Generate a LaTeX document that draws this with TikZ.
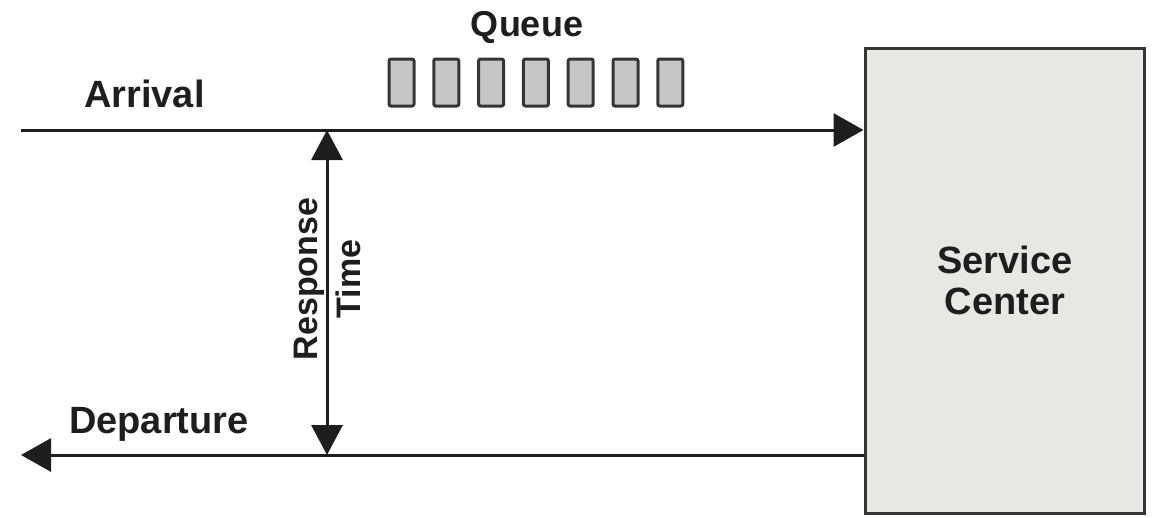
\documentclass[tikz,border=0pt]{standalone}
\usepackage{fontspec}
\setmainfont{Liberation Sans}
\usetikzlibrary{arrows.meta}
\definecolor{centerfill}{RGB}{231,232,228}
\definecolor{slotfill}{RGB}{198,198,196}
\definecolor{ink}{RGB}{30,30,30}
\begin{document}
\begin{tikzpicture}[x=1pt,y=-1pt,
  lbl/.style={font=\fontsize{38}{41}\selectfont\bfseries, inner sep=0pt, text=ink},
  flow/.style={line width=3pt, draw=ink, -{Triangle[length=30pt,width=33pt]}},
  dimarrow/.style={line width=3pt, draw=ink, {Triangle[length=30pt,width=31pt]}-{Triangle[length=30pt,width=31pt]}},
  slot/.style={draw=ink!90, line width=3pt, fill=slotfill, rounded corners=2pt,
    minimum width=25pt, minimum height=47pt, inner sep=0pt},
  centerbox/.style={draw=ink!90, line width=3pt, fill=centerfill,
    minimum width=279pt, minimum height=465pt, inner sep=0pt}
]
\useasboundingbox (0,0) rectangle (1155,517);

% service center box
\node[centerbox] (sc) at (1004.5,280.5) {};
\node[lbl, align=center] (sctext) at (1005,280) {Service\\Center};

% arrival and departure lines
\coordinate (arrStart) at (21,130);
\coordinate (depEnd) at (21,455);
\draw[flow] (arrStart) -- (sc.west |- arrStart);
\draw[flow] (sc.west |- depEnd) -- (depEnd);

% labels
\node[lbl, anchor=base west] (arr) at (84,107) {Arrival};
\node[lbl, anchor=base west] (dep) at (69,433) {Departure};
\node[lbl, font=\fontsize{36}{41}\selectfont\bfseries, anchor=base] (queue) at (527,36) {Queue};

% queue slots
\foreach \i in {0,...,6} {
  \node[slot] (q\i) at (401.5+44.8*\i,82.5) {};
}

% response time
\coordinate (rtTop) at (327,130);
\coordinate (rtBot) at (327,455);
\draw[dimarrow] (rtBot) -- (rtTop);
\node[lbl, font=\fontsize{34}{43}\selectfont\bfseries, rotate=90, align=center] (rt) at (327.5,279) {Response\\Time};
\end{tikzpicture}
\end{document}
